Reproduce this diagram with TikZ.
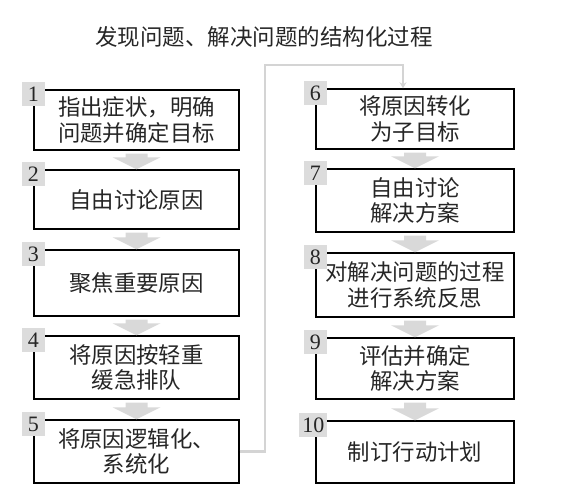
\documentclass[tikz,border=0pt]{standalone}
\usepackage{fontspec}
\newfontfamily\cjk{Noto Sans CJK SC}
\newfontfamily\numfont{Liberation Serif}
\usetikzlibrary{calc,arrows.meta}
\definecolor{arrowgray}{RGB}{217,217,217}
\definecolor{tabgray}{RGB}{220,220,220}
\definecolor{conngray}{RGB}{212,212,212}
\newcommand{\blockarrow}[2]{%
  \fill[arrowgray] ($(#1.south)+(-11,3)$) -- ($(#1.south)+(11,3)$)
    -- ($(#2.north)+(11,-12)$) -- ($(#2.north)+(24,-12)$) -- (#2.north)
    -- ($(#2.north)+(-24,-12)$) -- ($(#2.north)+(-11,-12)$) -- cycle;}
\begin{document}
\begin{tikzpicture}[x=1pt,y=-1pt,
  stepbox/.style={draw=black, line width=1.4pt, fill=white, inner sep=0pt,
    align=center, text=black!85, font=\cjk\fontsize{22.4}{25.5}\selectfont},
  lbox/.style={stepbox, minimum width=205pt},
  rbox/.style={stepbox, minimum width=198pt},
  numtab/.style={fill=tabgray, inner sep=0pt, minimum width=23pt,
    minimum height=24pt, text=black!85, font=\numfont\fontsize{22}{22}\selectfont},
  conn/.style={draw=conngray, line width=2.8pt},
  titlestyle/.style={inner sep=0pt, text=black!85, font=\cjk\fontsize{22.5}{25}\selectfont}
]
\useasboundingbox (0,0) rectangle (566,502);
\node[titlestyle] (title) at (264,37) {发现问题、解决问题的结构化过程};

% left column
\node[lbox, minimum height=60pt] (b1) at (136.5,120) {指出症状，明确\\问题并确定目标};
\node[lbox, minimum height=59pt] (b2) at (136.5,199.5) {自由讨论原因};
\node[lbox, minimum height=66pt] (b3) at (136.5,283) {聚焦重要原因};
\node[lbox, minimum height=63pt] (b4) at (136.5,367.5) {将原因按轻重\\缓急排队};
\node[lbox, minimum height=63pt] (b5) at (136.5,451.5) {将原因逻辑化、\\系统化};

% right column
\node[rbox, minimum height=60pt] (b6) at (415,119) {将原因转化\\为子目标};
\node[rbox, minimum height=63pt] (b7) at (415,200.5) {自由讨论\\解决方案};
\node[rbox, minimum height=64pt] (b8) at (415,285) {对解决问题的过程\\进行系统反思};
\node[rbox, minimum height=61pt] (b9) at (415,368.5) {评估并确定\\解决方案};
\node[rbox, minimum height=62pt] (b10) at (415,452) {制订行动计划};

% number tabs
\foreach \i in {1,...,9} {
  \node[numtab] (t\i) at ($(b\i.north west)+(0,5)$) {\i};
}
\node[numtab, minimum width=28pt] (t10) at ($(b10.north west)+(-2,5)$) {10};

% block arrows
\blockarrow{b1}{b2}
\blockarrow{b2}{b3}
\blockarrow{b3}{b4}
\blockarrow{b4}{b5}
\blockarrow{b6}{b7}
\blockarrow{b7}{b8}
\blockarrow{b8}{b9}
\blockarrow{b9}{b10}

% connector 5 -> 6
\coordinate (turn) at (265,65);
\coordinate (b6in) at ($(b6.north)+(-12,0)$);
\draw[conn, -{Stealth[length=6pt,width=7pt]}] (b5.east) -| (turn) -| (b6in);
\end{tikzpicture}
\end{document}
